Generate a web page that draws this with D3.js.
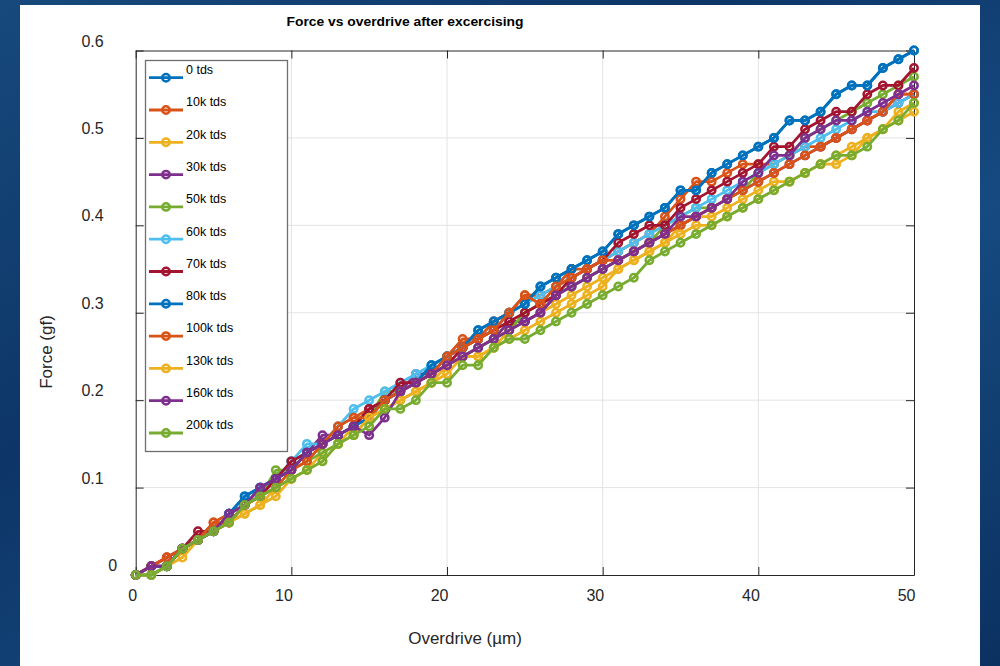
<!DOCTYPE html>
<html>
<head>
<meta charset="utf-8">
<script src="https://cdn.jsdelivr.net/npm/d3@7"></script>
<style>
  body { margin: 0; padding: 0; overflow: hidden; }
  svg { display: block; font-family: "Liberation Sans", Arial, sans-serif; }
</style>
</head>
<body>
<div id="chart"></div>
<script>
// overdrive in um
var overdrive = [0,1,2,3,4,5,6,7,8,9,10,11,12,13,14,15,16,17,18,19,20,21,22,23,24,25,
  26,27,28,29,30,31,32,33,34,35,36,37,38,39,40,41,42,43,44,45,46,47,48,49,50];

var seriesNames = ["0 tds","10k tds","20k tds","30k tds","50k tds","60k tds",
  "70k tds","80k tds","100k tds","130k tds","160k tds","200k tds"];
var seriesColors = ["#0072BD","#D95319","#EDB120","#7E2F8E","#77AC30","#4DBEEE",
  "#A2142F","#0072BD","#D95319","#EDB120","#7E2F8E","#77AC30"];

// force in gf
var force0 = [0,0,0.01,0.03,0.04,0.05, 0.07,0.09,0.10,0.11,0.13, 0.14,0.15,0.16,0.17,0.18,
  0.20,0.21,0.22,0.24,0.25, 0.26,0.28,0.29,0.30,0.31, 0.33,0.34,0.35,0.36,0.37,
  0.39,0.40,0.41,0.42,0.44, 0.44,0.46,0.47,0.48,0.49, 0.50,0.52,0.52,0.53,0.55,
  0.56,0.56,0.58,0.59,0.60];
var force10k = [0,0.01,0.02,0.03,0.04,0.06, 0.07,0.08,0.09,0.11,0.12, 0.13,0.15,0.17,0.18,0.19,
  0.20,0.21,0.22,0.23,0.25, 0.27,0.27,0.29,0.30,0.32, 0.32,0.33,0.35,0.35,0.36,
  0.37,0.38,0.39,0.41,0.43, 0.45,0.45,0.46,0.47,0.47, 0.47,0.48,0.49,0.49,0.50,
  0.51,0.52,0.53,0.55,0.55];
var force20k = [0,0,0.01,0.03,0.04,0.05, 0.06,0.07,0.08,0.10,0.11, 0.12,0.14,0.15,0.17,0.18,
  0.19,0.20,0.21,0.22,0.23, 0.25,0.25,0.26,0.28,0.29, 0.30,0.31,0.32,0.33,0.34,
  0.35,0.36,0.37,0.38,0.40, 0.41,0.41,0.42,0.43,0.44, 0.45,0.45,0.46,0.47,0.48,
  0.49,0.50,0.51,0.53,0.54];
var force30k = [0,0.01,0.01,0.03,0.04,0.05, 0.07,0.08,0.10,0.11,0.12, 0.14,0.16,0.16,0.17,0.19,
  0.20,0.21,0.23,0.23,0.24, 0.25,0.26,0.27,0.29,0.29, 0.30,0.32,0.33,0.34,0.35,
  0.36,0.37,0.38,0.39,0.40, 0.41,0.42,0.43,0.44,0.45, 0.46,0.47,0.48,0.49,0.50,
  0.51,0.52,0.53,0.54,0.55];
var force50k = [0,0,0.01,0.03,0.04,0.05, 0.06,0.08,0.09,0.12,0.12, 0.13,0.14,0.15,0.16,0.18,
  0.21,0.21,0.22,0.23,0.24, 0.25,0.26,0.27,0.28,0.30, 0.31,0.32,0.33,0.34,0.35,
  0.36,0.37,0.38,0.40,0.41, 0.42,0.42,0.43,0.44,0.46, 0.47,0.48,0.50,0.51,0.52,
  0.53,0.54,0.55,0.56,0.57];
var force60k = [0,0,0.01,0.03,0.04,0.05, 0.07,0.08,0.10,0.11,0.13, 0.15,0.15,0.17,0.19,0.20,
  0.21,0.22,0.23,0.24,0.25, 0.26,0.27,0.28,0.30,0.31, 0.32,0.33,0.34,0.35,0.36,
  0.37,0.38,0.39,0.40,0.41, 0.42,0.43,0.44,0.45,0.46, 0.47,0.48,0.49,0.50,0.51,
  0.52,0.53,0.53,0.54,0.55];
var force70k = [0,0.01,0.02,0.03,0.05,0.05, 0.06,0.08,0.09,0.11,0.13, 0.14,0.15,0.16,0.17,0.19,
  0.20,0.22,0.22,0.23,0.24, 0.26,0.27,0.28,0.29,0.30, 0.31,0.32,0.34,0.35,0.36,
  0.38,0.39,0.40,0.40,0.42, 0.43,0.44,0.45,0.46,0.47, 0.49,0.49,0.51,0.52,0.53,
  0.53,0.55,0.56,0.56,0.58];
var force80k = [0,0.01,0.01,0.03,0.04,0.05, 0.07,0.09,0.10,0.11,0.12, 0.14,0.15,0.16,0.17,0.18,
  0.20,0.21,0.22,0.24,0.25, 0.26,0.28,0.29,0.30,0.31, 0.33,0.34,0.35,0.36,0.37,
  0.39,0.40,0.41,0.42,0.44, 0.44,0.46,0.47,0.48,0.49, 0.50,0.52,0.52,0.53,0.55,
  0.56,0.56,0.58,0.59,0.60];
var force100k = [0,0.01,0.02,0.03,0.04,0.06, 0.06,0.08,0.09,0.10,0.12, 0.13,0.15,0.17,0.18,0.18,
  0.20,0.21,0.22,0.23,0.25, 0.26,0.27,0.28,0.30,0.32, 0.31,0.33,0.34,0.35,0.36,
  0.36,0.37,0.38,0.39,0.40, 0.41,0.42,0.43,0.44,0.45, 0.46,0.47,0.48,0.49,0.50,
  0.51,0.52,0.53,0.55,0.55];
var force130k = [0,0,0.01,0.02,0.04,0.05, 0.06,0.07,0.08,0.09,0.11, 0.12,0.13,0.15,0.16,0.18,
  0.19,0.20,0.21,0.22,0.24, 0.25,0.25,0.26,0.27,0.28, 0.29,0.30,0.31,0.32,0.33,
  0.35,0.36,0.37,0.38,0.39, 0.40,0.40,0.41,0.42,0.43, 0.44,0.45,0.46,0.47,0.47,
  0.48,0.50,0.51,0.52,0.53];
var force160k = [0,0.01,0.01,0.03,0.04,0.05, 0.07,0.08,0.10,0.11,0.12, 0.14,0.15,0.16,0.17,0.16,
  0.18,0.21,0.22,0.23,0.24, 0.25,0.26,0.27,0.28,0.29, 0.30,0.32,0.33,0.34,0.35,
  0.36,0.37,0.38,0.39,0.41, 0.41,0.42,0.43,0.45,0.46, 0.48,0.48,0.50,0.51,0.52,
  0.52,0.53,0.54,0.55,0.56];
var force200k = [0,0,0.01,0.03,0.04,0.05, 0.06,0.08,0.09,0.10,0.11, 0.12,0.13,0.15,0.16,0.17,
  0.19,0.19,0.20,0.22,0.22, 0.24,0.24,0.26,0.27,0.27, 0.28,0.29,0.30,0.31,0.32,
  0.33,0.34,0.36,0.37,0.38, 0.39,0.40,0.41,0.42,0.43, 0.44,0.45,0.46,0.47,0.48,
  0.48,0.49,0.51,0.52,0.54];

var allForces = [force0, force10k, force20k, force30k, force50k, force60k,
  force70k, force80k, force100k, force130k, force160k, force200k];

var xTicks = [0,10,20,30,40,50];
var yTicks = [0,0.1,0.2,0.3,0.4,0.5,0.6];

var width = 1000, height = 666;
var plotLeft = 135.7, plotRight = 914, plotTop = 50.5, plotBottom = 575;

var svg = d3.select("#chart").append("svg")
    .attr("width", width)
    .attr("height", height);

// blue slide background
var defs = svg.append("defs");
var grad = defs.append("linearGradient")
    .attr("id", "bg")
    .attr("x1", "0%").attr("y1", "0%")
    .attr("x2", "100%").attr("y2", "100%");
grad.append("stop").attr("offset", "0%").attr("stop-color", "#17497d");
grad.append("stop").attr("offset", "35%").attr("stop-color", "#0d3567");
grad.append("stop").attr("offset", "65%").attr("stop-color", "#164a80");
grad.append("stop").attr("offset", "100%").attr("stop-color", "#0b3160");

svg.append("rect")
    .attr("width", width)
    .attr("height", height)
    .attr("fill", "url(#bg)");

svg.append("rect")
    .attr("x", 20)
    .attr("y", 5)
    .attr("width", 960)
    .attr("height", 661)
    .attr("fill", "#ffffff");

var x = d3.scaleLinear().domain([0, 50]).range([plotLeft, plotRight]);
var y = d3.scaleLinear().domain([0, 0.6]).range([plotBottom, plotTop]);

// grid
svg.append("g")
    .selectAll("line")
    .data(xTicks.slice(1, -1))
    .enter().append("line")
    .attr("x1", function(d) { return x(d); })
    .attr("x2", function(d) { return x(d); })
    .attr("y1", plotTop)
    .attr("y2", plotBottom)
    .attr("stroke", "#e3e3e3")
    .attr("stroke-width", 1);

svg.append("g")
    .selectAll("line")
    .data(yTicks.slice(1, -1))
    .enter().append("line")
    .attr("x1", plotLeft)
    .attr("x2", plotRight)
    .attr("y1", function(d) { return y(d); })
    .attr("y2", function(d) { return y(d); })
    .attr("stroke", "#e3e3e3")
    .attr("stroke-width", 1);

// axes (ticks pointing inward, box on)
var axisColor = "#262626";

var xAxis = svg.append("g")
    .attr("transform", "translate(0," + plotBottom + ")")
    .call(d3.axisBottom(x).tickValues(xTicks).tickSizeInner(-8).tickSizeOuter(0));
xAxis.select(".domain").attr("stroke", axisColor);
xAxis.selectAll(".tick line").attr("stroke", axisColor);
xAxis.selectAll(".tick text")
    .attr("text-anchor", "end")
    .attr("x", 1)
    .attr("y", 26)
    .attr("dy", 0)
    .attr("fill", "#262626")
    .style("font-size", "16px");

var yAxis = svg.append("g")
    .attr("transform", "translate(" + plotLeft + ",0)")
    .call(d3.axisLeft(y).tickValues(yTicks).tickSizeInner(-8).tickSizeOuter(0)
        .tickFormat(function(d) { return d === 0 ? "0" : d3.format(".1f")(d); }));
yAxis.select(".domain").attr("stroke", axisColor);
yAxis.selectAll(".tick line").attr("stroke", axisColor);
yAxis.selectAll(".tick text")
    .attr("x", function(d) { return d === 0 ? -18.5 : -32; })
    .attr("dy", "-0.28em")
    .attr("fill", "#262626")
    .style("font-size", "16px");

var topAxis = svg.append("g")
    .attr("transform", "translate(0," + plotTop + ")")
    .call(d3.axisTop(x).tickValues(xTicks).tickSizeInner(-8).tickSizeOuter(0).tickFormat(""));
topAxis.select(".domain").attr("stroke", axisColor);
topAxis.selectAll(".tick line").attr("stroke", axisColor);

var rightAxis = svg.append("g")
    .attr("transform", "translate(" + plotRight + ",0)")
    .call(d3.axisRight(y).tickValues(yTicks).tickSizeInner(-8).tickSizeOuter(0).tickFormat(""));
rightAxis.select(".domain").attr("stroke", axisColor);
rightAxis.selectAll(".tick line").attr("stroke", axisColor);

// axis labels and title
svg.append("text")
    .attr("x", 465)
    .attr("y", 644)
    .attr("text-anchor", "middle")
    .attr("fill", "#262626")
    .style("font-size", "17px")
    .text("Overdrive (\u00b5m)");

svg.append("text")
    .attr("transform", "translate(52,352) rotate(-90)")
    .attr("text-anchor", "middle")
    .attr("fill", "#262626")
    .style("font-size", "17px")
    .text("Force (gf)");

svg.append("text")
    .attr("x", 405)
    .attr("y", 26)
    .attr("text-anchor", "middle")
    .attr("fill", "#000")
    .style("font-size", "13px")
    .style("font-weight", "bold")
    .attr("textLength", 237)
    .attr("lengthAdjust", "spacingAndGlyphs")
    .text("Force vs overdrive after excercising");

// data lines with circle markers
var line = d3.line()
    .x(function(d, i) { return x(overdrive[i]); })
    .y(function(d) { return y(d); });

allForces.forEach(function(vals, k) {
    var g = svg.append("g");
    g.append("path")
        .attr("d", line(vals))
        .attr("fill", "none")
        .attr("stroke", seriesColors[k])
        .attr("stroke-width", 2.8)
        .attr("stroke-linejoin", "round");
    g.selectAll("circle")
        .data(vals)
        .enter().append("circle")
        .attr("cx", function(d, i) { return x(overdrive[i]); })
        .attr("cy", function(d) { return y(d); })
        .attr("r", 3.7)
        .attr("fill", "none")
        .attr("stroke", seriesColors[k])
        .attr("stroke-width", 2.5);
});

// legend
var legend = svg.append("g");
legend.append("rect")
    .attr("x", 145.5)
    .attr("y", 60.5)
    .attr("width", 142)
    .attr("height", 391)
    .attr("fill", "#ffffff")
    .attr("stroke", "#6f6f6f")
    .attr("stroke-width", 1.3);

seriesNames.forEach(function(name, k) {
    var ly = 77.7 + k * 32.3;
    legend.append("line")
        .attr("x1", 149)
        .attr("x2", 183)
        .attr("y1", ly)
        .attr("y2", ly)
        .attr("stroke", seriesColors[k])
        .attr("stroke-width", 2.8);
    legend.append("circle")
        .attr("cx", 166)
        .attr("cy", ly)
        .attr("r", 3.7)
        .attr("fill", "none")
        .attr("stroke", seriesColors[k])
        .attr("stroke-width", 2.5);
    legend.append("text")
        .attr("x", 186)
        .attr("y", ly - 3.7)
        .attr("fill", "#000")
        .style("font-size", "12.5px")
        .text(name);
});
</script>
</body>
</html>
